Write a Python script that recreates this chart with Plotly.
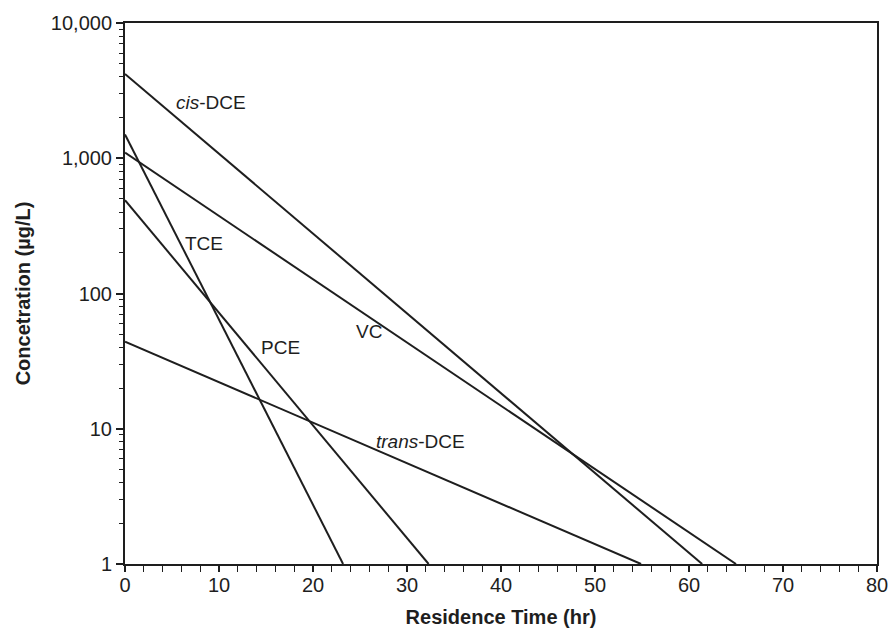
import math
import plotly.graph_objects as go

# First-order decay of chlorinated ethenes: initial concentration and the
# residence time at which each reaches 1 µg/L
species = ["cis-DCE", "VC", "TCE", "PCE", "trans-DCE"]
initial_conc = [4200, 1100, 1500, 490, 44]
time_to_1ugL = [61.4, 65.0, 23.2, 32.3, 54.9]

# Curve labels
label_text = ["<i>cis</i>-DCE", "VC", "TCE", "PCE", "<i>trans</i>-DCE"]
label_x = [9.1, 26.0, 8.4, 16.5, 31.4]
label_y = [2580, 52, 234, 39.6, 8.0]

y_tickvals = [1, 10, 100, 1000, 10000]
y_ticktext = ["1", "10", "100", "1,000", "10,000"]

FONT = "Liberation Sans, Arial, Helvetica, sans-serif"
INK = "#1e1e1e"

fig = go.Figure()
for name, c0, tend in zip(species, initial_conc, time_to_1ugL):
    fig.add_trace(go.Scatter(
        x=[0, tend], y=[c0, 1], mode="lines", name=name,
        line=dict(color=INK, width=2), showlegend=False,
    ))

for txt, lx, ly in zip(label_text, label_x, label_y):
    fig.add_annotation(x=lx, y=math.log10(ly), text=txt, showarrow=False,
                       xanchor="center", yanchor="middle",
                       font=dict(family=FONT, size=19, color=INK))

fig.update_layout(
    width=890, height=629,
    margin=dict(l=125, r=13, t=23, b=65),
    paper_bgcolor="white", plot_bgcolor="white",
    font=dict(family=FONT, size=20, color=INK),
    xaxis=dict(
        range=[0, 80], dtick=10, tick0=0, automargin=False,
        showgrid=False, zeroline=False,
        showline=True, linecolor=INK, linewidth=2, mirror=True,
        ticks="outside", ticklen=6, tickwidth=1.5, tickcolor=INK,
        ticklabelstandoff=-4,
        minor=dict(dtick=2, ticks="outside", ticklen=6, tickwidth=1.2,
                   tickcolor=INK, showgrid=False),
        title=dict(text="<b>Residence Time (hr)</b>", standoff=15,
                   font=dict(size=20)),
    ),
    yaxis=dict(
        type="log", range=[0, 4], automargin=False,
        tickvals=y_tickvals, ticktext=y_ticktext,
        showgrid=False, zeroline=False,
        showline=True, linecolor=INK, linewidth=2, mirror=True,
        ticks="outside", ticklen=7, tickwidth=1.5, tickcolor=INK,
        minor=dict(dtick="D1", ticks="outside", ticklen=4, tickwidth=1.2,
                   tickcolor=INK, showgrid=False),
        title=dict(text="<b>Concetration (µg/L)</b>", standoff=15,
                   font=dict(size=20)),
    ),
)

fig.write_html("out.html")
